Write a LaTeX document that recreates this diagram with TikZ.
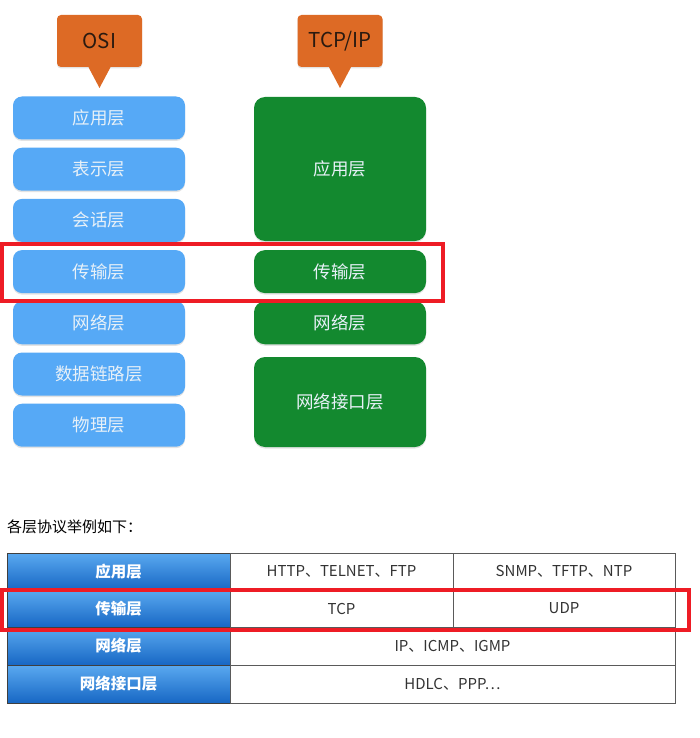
\documentclass[tikz,border=0pt]{standalone}
\usepackage{fontspec}
\setmainfont{Noto Sans CJK SC}
\usetikzlibrary{shadows}
\definecolor{osiblue}{HTML}{56A9F6}
\definecolor{tcpgreen}{HTML}{13892F}
\definecolor{callorange}{HTML}{DD6A25}
\definecolor{boxtext}{HTML}{E8F1F8}
\definecolor{hdtop}{HTML}{5AA9F0}
\definecolor{hdbot}{HTML}{1767C4}
\definecolor{hlred}{HTML}{EE1C25}
\definecolor{cellline}{HTML}{5A5A5A}
\definecolor{celltext}{HTML}{333333}
\definecolor{calltext}{HTML}{2A1A10}
\tikzset{
  shad/.style={drop shadow={opacity=0.22,shadow xshift=0pt,shadow yshift=-1.5pt}},
  osibox/.style={fill=osiblue,rounded corners=9pt,text=boxtext,font=\fontsize{17.5}{17.5}\selectfont,minimum width=172pt,minimum height=43pt,inner sep=0pt,shad},
  tcpbox/.style={fill=tcpgreen,rounded corners=11pt,text=boxtext,font=\fontsize{17.5}{17.5}\selectfont,minimum width=172pt,inner sep=0pt,shad},
  callbox/.style={fill=callorange,rounded corners=4pt,text=calltext,font=\fontsize{20.5}{20.5}\selectfont,minimum width=85pt,minimum height=52pt,inner sep=0pt,shad},
  hlbox/.style={draw=hlred,line width=4pt},
  hdcell/.style={draw=cellline!70!black,line width=0.8pt,top color=hdtop,bottom color=hdbot,text=white,font=\bfseries\fontsize{15.5}{15.5}\selectfont,minimum width=223pt,inner sep=0pt},
  cell/.style={draw=cellline,line width=0.8pt,fill=white,text=celltext,font=\fontsize{15}{15}\selectfont,inner sep=0pt}
}
\begin{document}
\begin{tikzpicture}[x=1pt,y=-1pt]
\useasboundingbox[fill=white] (0,0) rectangle (700,738);
% callouts
\node[callbox] (osi) at (99.5,41) {OSI};
\coordinate (ositip) at (99.5,88);
\fill[callorange] ([xshift=-11pt]osi.south) -- (ositip) -- ([xshift=11pt]osi.south) -- cycle;
\node[callbox] (tcpip) at (340,41) {TCP/IP};
\coordinate (tcptip) at (340,88);
\fill[callorange] ([xshift=-11pt]tcpip.south) -- (tcptip) -- ([xshift=11pt]tcpip.south) -- cycle;
% OSI stack
\node[osibox] (o1) at (99,118) {应用层};
\node[osibox] (o2) at (99,169.2) {表示层};
\node[osibox] (o3) at (99,220.4) {会话层};
\node[osibox] (o4) at (99,271.6) {传输层};
\node[osibox] (o5) at (99,322.8) {网络层};
\node[osibox] (o6) at (99,374) {数据链路层};
\node[osibox] (o7) at (99,425.2) {物理层};
% TCP/IP stack
\node[tcpbox,minimum height=144pt] (t1) at (340,169) {应用层};
\node[tcpbox,minimum height=43pt] (t2) at (340,271.6) {传输层};
\node[tcpbox,minimum height=43pt] (t3) at (340,322.8) {网络层};
\node[tcpbox,minimum height=90pt] (t4) at (340,402) {网络接口层};
% highlight 1
\draw[hlbox] (2,244) rectangle (443,301);
% caption
\node[anchor=west,inner sep=0pt,font=\fontsize{15}{15}\selectfont,text=black] (cap) at (7,527) {各层协议举例如下：};
% table
\node[hdcell,minimum height=37pt] (h1) at (118.5,571.5) {应用层};
\node[hdcell,minimum height=37pt] (h2) at (118.5,608.5) {传输层};
\node[hdcell,minimum height=38pt] (h3) at (118.5,646) {网络层};
\node[hdcell,minimum height=38pt] (h4) at (118.5,684) {网络接口层};
\node[cell,minimum width=223pt,minimum height=37pt] (c11) at (341.5,571.5) {HTTP、TELNET、FTP};
\node[cell,minimum width=222pt,minimum height=37pt] (c12) at (564,571.5) {SNMP、TFTP、NTP};
\node[cell,minimum width=223pt,minimum height=37pt] (c21) at (341.5,608.5) {TCP};
\node[cell,minimum width=222pt,minimum height=37pt] (c22) at (564,608.5) {UDP};
\node[cell,minimum width=445pt,minimum height=38pt] (c3) at (452.5,646) {IP、ICMP、IGMP};
\node[cell,minimum width=445pt,minimum height=38pt] (c4) at (452.5,684) {HDLC、PPP…};
% highlight 2
\draw[hlbox] (2,590) rectangle (689,630);
\end{tikzpicture}
\end{document}
